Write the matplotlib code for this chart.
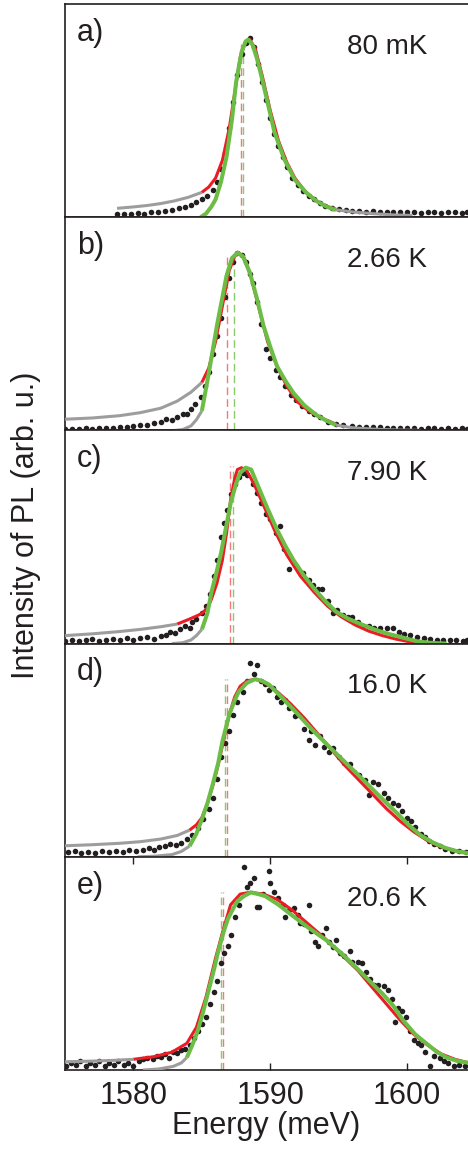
import matplotlib
matplotlib.use("Agg")
import matplotlib.pyplot as plt

plt.rcParams['font.family'] = ['Liberation Sans', 'DejaVu Sans']

# panel labels and temperatures
labels = ['a)', 'b)', 'c)', 'd)', 'e)']
temps = ['80 mK', '2.66 K', '7.90 K', '16.0 K', '20.6 K']

# ---- a) 80 mK ----
dots_x_a = [1578.8, 1579.3, 1579.8, 1580.3, 1580.8, 1581.3, 1581.8, 1582.3, 1582.8, 1583.3, 1583.8, 1584.2,
            1584.6, 1585.0, 1585.4, 1585.8, 1586.1, 1586.4, 1586.7, 1587.0, 1587.3, 1587.6, 1587.9, 1588.2,
            1588.5, 1588.8, 1589.1, 1589.4, 1589.7, 1590.0, 1590.3, 1590.6, 1590.9, 1591.2, 1591.6, 1592.0,
            1592.4, 1592.8, 1593.2, 1593.6, 1594.0, 1594.5, 1595.0, 1595.5, 1596.0, 1596.5, 1597.0, 1597.5,
            1598.0, 1598.5, 1599.0, 1599.5, 1600.0, 1600.5, 1601.0, 1601.5, 1602.0, 1602.5, 1603.0, 1603.5,
            1604.0, 1604.4]
dots_y_a = [0.017, 0.018, 0.02, 0.022, 0.02, 0.027, 0.03, 0.036, 0.04, 0.05, 0.058, 0.07,
            0.083, 0.10, 0.12, 0.155, 0.2, 0.27, 0.36, 0.5, 0.65, 0.8, 0.92, 0.98,
            1.01, 0.96, 0.86, 0.76, 0.66, 0.56, 0.47, 0.4, 0.34, 0.28, 0.22, 0.18,
            0.15, 0.12, 0.1, 0.08, 0.065, 0.052, 0.045, 0.04, 0.036, 0.035, 0.03, 0.033,
            0.03, 0.028, 0.032, 0.027, 0.028, 0.03, 0.025, 0.028, 0.03, 0.026, 0.027, 0.03,
            0.025, 0.027]
gray_up_x_a = [1578.8, 1580.0, 1581.0, 1582.0, 1583.0, 1584.0, 1585.0]
gray_up_y_a = [0.05, 0.058, 0.066, 0.077, 0.092, 0.112, 0.14]
red_x_a = [1585.0, 1585.5, 1586.0, 1586.5, 1587.0, 1587.4, 1587.8, 1588.2, 1588.5, 1588.9, 1589.4, 1590.0,
           1590.6, 1591.2, 1591.8, 1592.5, 1593.2, 1594.0, 1594.8]
red_y_a = [0.14, 0.17, 0.22, 0.32, 0.5, 0.7, 0.9, 0.99, 1.0, 0.95, 0.8, 0.6,
           0.43, 0.31, 0.22, 0.15, 0.1, 0.065, 0.045]
gray_low_x_a = [1584.9]
gray_low_y_a = [0.0]
green_x_a = [1584.9, 1585.3, 1585.7, 1586.0, 1586.4, 1586.8, 1587.2, 1587.5, 1587.9, 1588.2, 1588.4, 1588.7,
             1589.0, 1589.3, 1589.7, 1590.3, 1591.0, 1591.8, 1592.6, 1593.4, 1594.1, 1594.8]
green_y_a = [0.0, 0.02, 0.06, 0.10, 0.2, 0.34, 0.55, 0.76, 0.93, 0.99, 1.0, 0.97,
             0.9, 0.81, 0.68, 0.48, 0.33, 0.21, 0.14, 0.09, 0.06, 0.04]
gray_r_x_a = [1594.8, 1596.0, 1597.5, 1599.0, 1600.4]
gray_r_y_a = [0.042, 0.03, 0.02, 0.013, 0.01]
dash_a = (1587.85, 1588.0)

# ---- b) 2.66 K ----
dots_x_b = [1575.0, 1575.5, 1576.0, 1576.5, 1577.0, 1577.5, 1578.0, 1578.5, 1579.0, 1579.5, 1580.0, 1580.5,
            1581.0, 1581.5, 1582.0, 1582.4, 1582.8, 1583.2, 1583.6, 1583.9, 1584.2, 1584.5, 1584.9, 1585.2,
            1585.5, 1585.8, 1586.1, 1586.4, 1586.7, 1587.0, 1587.3, 1587.6, 1587.9, 1588.2, 1588.5, 1588.7,
            1589.0, 1589.3, 1589.7, 1590.0, 1590.4, 1590.7, 1591.1, 1591.5, 1591.9, 1592.3, 1592.8, 1593.2,
            1593.6, 1594.2, 1594.8, 1595.3, 1596.0, 1596.5, 1597.0, 1597.5, 1598.0, 1598.5, 1599.0, 1599.5,
            1600.0, 1600.5, 1601.0, 1601.5, 1602.0, 1602.5, 1603.0, 1603.5, 1604.0, 1604.4]
dots_y_b = [0.008, 0.01, 0.008, 0.012, 0.01, 0.014, 0.012, 0.016, 0.02, 0.018, 0.025, 0.03,
            0.028, 0.04, 0.05, 0.065, 0.06, 0.075, 0.09, 0.095, 0.12, 0.15, 0.19, 0.25,
            0.33, 0.43, 0.53, 0.63, 0.75, 0.86, 0.95, 1.0, 0.99, 0.95, 0.88, 0.83,
            0.72, 0.6, 0.46, 0.41, 0.34, 0.3, 0.25, 0.2, 0.17, 0.14, 0.11, 0.09,
            0.074, 0.05, 0.038, 0.03, 0.025, 0.02, 0.022, 0.018, 0.02, 0.015, 0.016, 0.014,
            0.012, 0.015, 0.01, 0.013, 0.012, 0.01, 0.012, 0.01, 0.011, 0.01]
gray_up_x_b = [1575.0, 1577.0, 1579.0, 1580.5, 1582.0, 1583.2, 1584.2, 1585.0]
gray_up_y_b = [0.063, 0.07, 0.083, 0.1, 0.125, 0.165, 0.215, 0.27]
red_x_b = [1585.0, 1585.5, 1586.0, 1586.5, 1587.0, 1587.4, 1587.7, 1588.1, 1588.6, 1589.2, 1589.8, 1590.5,
           1591.2, 1592.0, 1592.8, 1593.6, 1594.8]
red_y_b = [0.27, 0.35, 0.5, 0.7, 0.9, 0.98, 1.0, 0.97, 0.86, 0.68, 0.5, 0.36,
           0.25, 0.16, 0.11, 0.075, 0.035]
gray_low_x_b = [1583.0, 1583.6, 1584.2, 1584.6, 1585.0]
gray_low_y_b = [0.0, 0.005, 0.025, 0.06, 0.11]
green_x_b = [1585.0, 1585.5, 1586.1, 1586.8, 1587.2, 1587.6, 1588.0, 1588.5, 1589.0, 1589.5, 1590.0, 1590.5,
             1591.1, 1591.7, 1592.5, 1593.4, 1594.1, 1594.8]
green_y_b = [0.11, 0.32, 0.59, 0.87, 0.97, 1.0, 0.98, 0.89, 0.75, 0.59, 0.47, 0.36,
             0.28, 0.21, 0.14, 0.085, 0.055, 0.03]
gray_r_x_b = [1594.8, 1596.0, 1597.5, 1599.0, 1601.0]
gray_r_y_b = [0.03, 0.015, 0.007, 0.003, 0.0]
dash_b = (1586.87, 1587.33)

# ---- c) 7.90 K ----
dots_x_c = [1575.0, 1575.5, 1576.0, 1576.5, 1577.0, 1577.5, 1578.0, 1578.5, 1579.0, 1579.5, 1580.0, 1580.5,
            1581.0, 1581.5, 1582.0, 1582.4, 1582.7, 1583.0, 1583.4, 1583.8, 1584.1, 1584.3, 1584.6, 1585.0,
            1585.3, 1585.6, 1585.9, 1586.1, 1586.4, 1586.6, 1586.8, 1587.1, 1587.4, 1587.7, 1588.0, 1588.3,
            1588.7, 1589.0, 1589.3, 1589.7, 1590.0, 1590.4, 1590.7, 1591.0, 1591.4, 1591.8, 1592.1, 1592.4,
            1592.8, 1593.1, 1593.5, 1593.8, 1594.2, 1594.6, 1594.9, 1595.3, 1595.7, 1596.0, 1596.4, 1596.8,
            1597.2, 1597.6, 1598.0, 1598.5, 1599.0, 1599.4, 1599.8, 1600.2, 1600.7, 1601.2, 1601.7, 1602.2,
            1602.6, 1603.1, 1603.6, 1604.1, 1604.4]
dots_y_c = [0.015, 0.02, 0.012, 0.018, 0.025, 0.015, 0.02, 0.028, 0.02, 0.03, 0.022, 0.03,
            0.035, 0.028, 0.04, 0.05, 0.065, 0.06, 0.08, 0.1, 0.09, 0.12, 0.14, 0.17,
            0.21, 0.28, 0.38, 0.47, 0.6, 0.68, 0.75, 0.84, 0.9, 0.94, 0.96, 0.95,
            0.9, 0.85, 0.79, 0.73, 0.7, 0.62, 0.66, 0.53, 0.42, 0.44, 0.41, 0.4,
            0.36, 0.33, 0.31, 0.31, 0.24, 0.17, 0.19, 0.16, 0.15, 0.15, 0.12, 0.1,
            0.1, 0.09, 0.085, 0.09, 0.09, 0.065, 0.055, 0.05, 0.035, 0.03, 0.025, 0.022,
            0.02, 0.018, 0.02, 0.015, 0.018]
gray_up_x_c = [1575.0, 1577.0, 1579.0, 1580.5, 1582.0, 1583.2]
gray_up_y_c = [0.045, 0.055, 0.068, 0.08, 0.095, 0.11]
red_x_c = [1583.2, 1584.0, 1584.6, 1585.0, 1585.4, 1585.7, 1586.1, 1586.5, 1586.8, 1587.1, 1587.4, 1587.6,
           1587.9, 1588.3, 1588.8, 1589.5, 1590.3, 1591.2, 1592.2, 1593.2, 1594.2, 1595.2, 1596.2, 1597.2,
           1598.2, 1599.2, 1600.2, 1600.7]
red_y_c = [0.11, 0.135, 0.155, 0.17, 0.2, 0.25, 0.34, 0.47, 0.62, 0.81, 0.93, 0.98,
           0.99, 0.97, 0.9, 0.78, 0.64, 0.5, 0.38, 0.29, 0.21, 0.15, 0.105, 0.07,
           0.045, 0.025, 0.01, 0.005]
gray_low_x_c = [1582.8, 1583.6, 1584.2, 1584.6, 1585.0]
gray_low_y_c = [0.0, 0.005, 0.02, 0.045, 0.08]
green_x_c = [1585.0, 1585.4, 1585.7, 1586.0, 1586.4, 1586.8, 1587.1, 1587.5, 1587.8, 1588.2, 1588.6, 1589.2,
             1589.8, 1590.5, 1591.1, 1591.7, 1592.4, 1593.2, 1594.0, 1594.8, 1595.7, 1596.6, 1597.6, 1598.6,
             1599.4, 1600.1, 1600.8, 1601.6, 1602.3, 1602.9]
green_y_c = [0.08, 0.17, 0.29, 0.38, 0.51, 0.67, 0.79, 0.9, 0.96, 0.99, 0.98, 0.87,
             0.76, 0.64, 0.55, 0.47, 0.39, 0.31, 0.24, 0.18, 0.14, 0.11, 0.08, 0.055,
             0.04, 0.025, 0.012, 0.005, 0.002, 0.0]
gray_r_x_c = []
gray_r_y_c = []
dash_c = (1587.04, 1587.24)

# ---- d) 16.0 K ----
dots_x_d = [1575.2, 1575.7, 1576.2, 1576.7, 1577.2, 1577.7, 1578.2, 1578.7, 1579.2, 1579.7, 1580.2, 1580.7,
            1581.1, 1581.5, 1581.9, 1582.3, 1582.7, 1583.1, 1583.5, 1583.9, 1584.3, 1584.7, 1585.1, 1585.5,
            1585.8, 1586.1, 1586.4, 1586.7, 1587.0, 1587.3, 1587.6, 1588.0, 1588.3, 1588.5, 1588.8, 1589.0,
            1589.3, 1589.6, 1589.9, 1590.2, 1590.5, 1590.8, 1591.1, 1591.4, 1591.8, 1592.1, 1592.5, 1592.8,
            1593.0, 1593.3, 1593.6, 1593.9, 1594.3, 1594.6, 1595.0, 1595.4, 1595.8, 1596.1, 1596.5, 1596.9,
            1597.2, 1597.5, 1597.9, 1598.3, 1598.6, 1599.0, 1599.3, 1599.6, 1600.0, 1600.3, 1600.6, 1601.0,
            1601.3, 1601.6, 1602.0, 1602.4, 1602.8, 1603.3, 1603.8, 1604.3]
dots_y_d = [0.025, 0.03, 0.02, 0.028, 0.022, 0.03, 0.025, 0.035, 0.028, 0.04, 0.03, 0.038,
            0.05, 0.04, 0.055, 0.06, 0.07, 0.065, 0.08, 0.1, 0.12, 0.16, 0.21, 0.27,
            0.33, 0.44, 0.56, 0.64, 0.71, 0.8, 0.87, 0.93, 0.99, 1.09, 1.03, 1.08,
            0.99, 0.97, 0.94, 0.95, 0.9, 0.87, 0.88, 0.84, 0.79, 0.8, 0.72, 0.66,
            0.71, 0.63, 0.68, 0.62, 0.59, 0.61, 0.56, 0.53, 0.52, 0.48, 0.46, 0.43,
            0.35, 0.42, 0.41, 0.36, 0.33, 0.3, 0.29, 0.26, 0.22, 0.2, 0.17, 0.13,
            0.11, 0.09, 0.07, 0.06, 0.045, 0.035, 0.03, 0.028]
gray_up_x_d = [1575.0, 1577.0, 1579.0, 1580.5, 1582.0, 1583.2, 1584.1]
gray_up_y_d = [0.062, 0.068, 0.076, 0.085, 0.1, 0.12, 0.15]
red_x_d = [1584.1, 1584.6, 1585.0, 1585.4, 1585.8, 1586.2, 1586.6, 1587.0, 1587.4, 1587.8, 1588.3, 1588.9,
           1589.6, 1590.5, 1591.5, 1592.5, 1593.5, 1594.5, 1595.5, 1596.5, 1597.5, 1598.5, 1599.5, 1600.5,
           1601.5, 1602.5, 1603.5, 1604.5]
red_y_d = [0.15, 0.18, 0.22, 0.3, 0.4, 0.52, 0.66, 0.8, 0.9, 0.96, 0.99, 1.0,
           0.98, 0.93, 0.86, 0.78, 0.69, 0.6, 0.51, 0.43, 0.35, 0.27, 0.2, 0.14,
           0.09, 0.055, 0.035, 0.02]
gray_low_x_d = [1580.3, 1581.5, 1582.8, 1583.5, 1584.1]
gray_low_y_d = [0.0, 0.003, 0.012, 0.03, 0.06]
green_x_d = [1584.1, 1584.6, 1585.0, 1585.4, 1585.8, 1586.2, 1586.5, 1587.0, 1587.4, 1587.7, 1588.3, 1588.9,
             1589.4, 1589.9, 1590.8, 1591.8, 1593.0, 1594.3, 1595.5, 1596.7, 1598.0, 1599.2, 1600.1, 1601.0,
             1601.9, 1602.8, 1603.7, 1604.5]
green_y_d = [0.06, 0.13, 0.21, 0.3, 0.41, 0.53, 0.65, 0.8, 0.88, 0.93, 0.98, 1.0,
             0.99, 0.97, 0.9, 0.82, 0.72, 0.62, 0.53, 0.44, 0.34, 0.25, 0.18, 0.12,
             0.08, 0.05, 0.03, 0.02]
gray_r_x_d = []
gray_r_y_d = []
dash_d = (1586.8, 1586.68)

# ---- e) 20.6 K ----
dots_x_e = [1575.1, 1575.4, 1575.8, 1576.1, 1576.5, 1576.8, 1577.2, 1577.5, 1577.9, 1578.2, 1578.6, 1578.9,
            1579.3, 1579.6, 1580.0, 1580.4, 1580.7, 1581.0, 1581.4, 1581.7, 1582.0, 1582.3, 1582.6, 1582.9,
            1583.2, 1583.5, 1583.8, 1584.1, 1584.4, 1584.7, 1585.0, 1585.3, 1585.6, 1585.9, 1586.1, 1586.4,
            1586.6, 1586.9, 1587.1, 1587.4, 1587.7, 1588.1, 1588.3, 1588.5, 1588.8, 1589.0, 1589.2, 1589.5,
            1589.9, 1590.0, 1590.3, 1590.6, 1590.9, 1591.1, 1591.4, 1591.7, 1592.0, 1592.2, 1592.5, 1592.8,
            1593.0, 1593.3, 1593.5, 1593.8, 1594.1, 1594.3, 1594.6, 1594.8, 1595.1, 1595.4, 1595.8, 1596.0,
            1596.4, 1596.7, 1597.0, 1597.3, 1597.6, 1597.9, 1598.3, 1598.6, 1598.9, 1599.1, 1599.3, 1599.6,
            1599.9, 1600.2, 1600.5, 1600.8, 1601.0, 1601.3, 1601.7, 1602.0, 1602.4, 1602.7, 1603.0, 1603.4,
            1603.8, 1604.2]
dots_y_e = [0.02, 0.04, 0.03, 0.05, 0.02, 0.04, 0.03, 0.05, 0.02, 0.04, 0.03, 0.05,
            0.03, 0.04, 0.02, 0.05, 0.06, 0.07, 0.06, 0.08, 0.075, 0.09, 0.07, 0.1,
            0.095, 0.11, 0.12, 0.14, 0.18, 0.22, 0.26, 0.3, 0.37, 0.44, 0.5, 0.6,
            0.66, 0.7, 0.76, 0.86, 0.93, 1.14, 1.03, 1.05, 1.08, 0.92, 0.92, 0.99,
            1.12, 1.05, 1.0, 0.97, 0.93, 0.86, 0.9, 0.91, 0.87, 0.83, 0.82, 0.93,
            0.78, 0.72, 0.7, 0.76, 0.8, 0.72, 0.69, 0.73, 0.66, 0.64, 0.67, 0.61,
            0.61, 0.6, 0.55, 0.51, 0.48, 0.48, 0.47, 0.45, 0.4, 0.27, 0.35, 0.33,
            0.3, 0.22, 0.17, 0.15, 0.14, 0.1, 0.02, 0.08, 0.07, 0.05, 0.04, 0.02,
            0.03, 0.02]
gray_up_x_e = [1575.0, 1577.0, 1578.5, 1580.0]
gray_up_y_e = [0.046, 0.05, 0.054, 0.06]
red_x_e = [1580.0, 1581.5, 1582.8, 1583.9, 1584.6, 1585.3, 1586.0, 1586.6, 1587.1, 1587.8, 1588.5, 1589.5,
           1590.5, 1591.6, 1592.8, 1594.0, 1595.2, 1596.4, 1597.5, 1598.5, 1599.5, 1600.5, 1601.5, 1602.5,
           1603.5, 1604.5]
red_y_e = [0.06, 0.075, 0.1, 0.15, 0.24, 0.41, 0.63, 0.8, 0.93, 0.99, 1.0, 0.99,
           0.96, 0.9, 0.82, 0.74, 0.65, 0.56, 0.46, 0.37, 0.28, 0.2, 0.14, 0.09,
           0.06, 0.04]
gray_low_x_e = [1580.7, 1581.8, 1582.9, 1583.5, 1583.9]
gray_low_y_e = [0.0, 0.005, 0.02, 0.04, 0.07]
green_x_e = [1583.9, 1584.3, 1584.7, 1585.1, 1585.5, 1585.9, 1586.2, 1586.6, 1586.9, 1587.3, 1587.6, 1588.1,
             1588.6, 1589.6, 1590.6, 1591.6, 1592.8, 1594.1, 1595.3, 1596.5, 1597.4, 1598.2, 1599.0, 1599.7,
             1600.6, 1601.4, 1602.2, 1602.9, 1603.7, 1604.5]
green_y_e = [0.07, 0.14, 0.22, 0.33, 0.45, 0.57, 0.67, 0.78, 0.85, 0.91, 0.95, 0.98,
             1.0, 0.98, 0.93, 0.87, 0.8, 0.73, 0.65, 0.56, 0.49, 0.43, 0.36, 0.28,
             0.2, 0.15, 0.1, 0.07, 0.05, 0.04]
gray_r_x_e = []
gray_r_y_e = []
dash_e = (1586.55, 1586.4)

panels = [
    (dots_x_a, dots_y_a, gray_up_x_a, gray_up_y_a, red_x_a, red_y_a, gray_low_x_a, gray_low_y_a,
     green_x_a, green_y_a, gray_r_x_a, gray_r_y_a, dash_a),
    (dots_x_b, dots_y_b, gray_up_x_b, gray_up_y_b, red_x_b, red_y_b, gray_low_x_b, gray_low_y_b,
     green_x_b, green_y_b, gray_r_x_b, gray_r_y_b, dash_b),
    (dots_x_c, dots_y_c, gray_up_x_c, gray_up_y_c, red_x_c, red_y_c, gray_low_x_c, gray_low_y_c,
     green_x_c, green_y_c, gray_r_x_c, gray_r_y_c, dash_c),
    (dots_x_d, dots_y_d, gray_up_x_d, gray_up_y_d, red_x_d, red_y_d, gray_low_x_d, gray_low_y_d,
     green_x_d, green_y_d, gray_r_x_d, gray_r_y_d, dash_d),
    (dots_x_e, dots_y_e, gray_up_x_e, gray_up_y_e, red_x_e, red_y_e, gray_low_x_e, gray_low_y_e,
     green_x_e, green_y_e, gray_r_x_e, gray_r_y_e, dash_e),
]

RED = '#ec1c24'
GREEN = '#6cbd45'
GRAY = '#9d9d9d'
INK = '#231f20'

fig, axes = plt.subplots(5, 1, figsize=(4.68, 11.52), dpi=100, sharex=True)
fig.subplots_adjust(left=0.139, right=1.0, top=0.9965, bottom=0.0712, hspace=0)

for i, ax in enumerate(axes):
    (dx, dy, gux, guy, rx, ry, glx, gly, gx, gy, grx, gry, dash) = panels[i]
    ax.plot(dx, dy, 'o', color=INK, ms=4.0, mew=0, zorder=2)
    ax.plot(gux, guy, color=GRAY, lw=2.2, solid_capstyle='butt', zorder=3)
    ax.plot(glx, gly, color=GRAY, lw=2.2, solid_capstyle='butt', zorder=3)
    if grx:
        ax.plot(grx, gry, color=GRAY, lw=2.2, solid_capstyle='butt', zorder=3)
    ax.plot(rx, ry, color=RED, lw=2.2, solid_capstyle='butt', zorder=4)
    ax.plot(gx, gy, color=GREEN, lw=2.9, solid_capstyle='butt', zorder=5)
    ax.vlines(dash[0], 0, 1.0, colors=RED, lw=1.0, linestyles=(0, (5.5, 3)), alpha=0.6, zorder=1.5)
    ax.vlines(dash[1], 0, 1.0, colors=GREEN, lw=1.0, linestyles=(0, (5.5, 3)), alpha=0.8, zorder=1.5)

    ax.set_xlim(1575, 1604.45)
    ax.set_ylim(0, 1.2)
    ax.set_yticks([])
    for side in ['left', 'top', 'bottom']:
        ax.spines[side].set_linewidth(1.2)
        ax.spines[side].set_color(INK)
    ax.spines['right'].set_visible(False)
    ax.text(0.03, 0.865, labels[i], transform=ax.transAxes, fontsize=22,
            ha='left', va='center', color=INK)
    ax.text(0.70, 0.80, temps[i], transform=ax.transAxes, fontsize=20,
            ha='left', va='center', color=INK)
    ax.tick_params(axis='x', which='both', bottom=False, top=False, labelbottom=False)

last = axes[-1]
last.set_xticks([1580, 1590, 1600])
last.tick_params(axis='x', bottom=True, top=True, direction='in', length=5, width=1.0,
                 color=INK, labelbottom=True, labelsize=22, labelcolor=INK, pad=8)
last.set_xlabel('Energy (meV)', fontsize=22, color=INK, labelpad=0)

fig.text(0.056, 0.5443, 'Intensity of PL (arb. u.)', rotation=90, fontsize=22,
         ha='center', va='center', color=INK)

fig.savefig('out.png', dpi=100)
